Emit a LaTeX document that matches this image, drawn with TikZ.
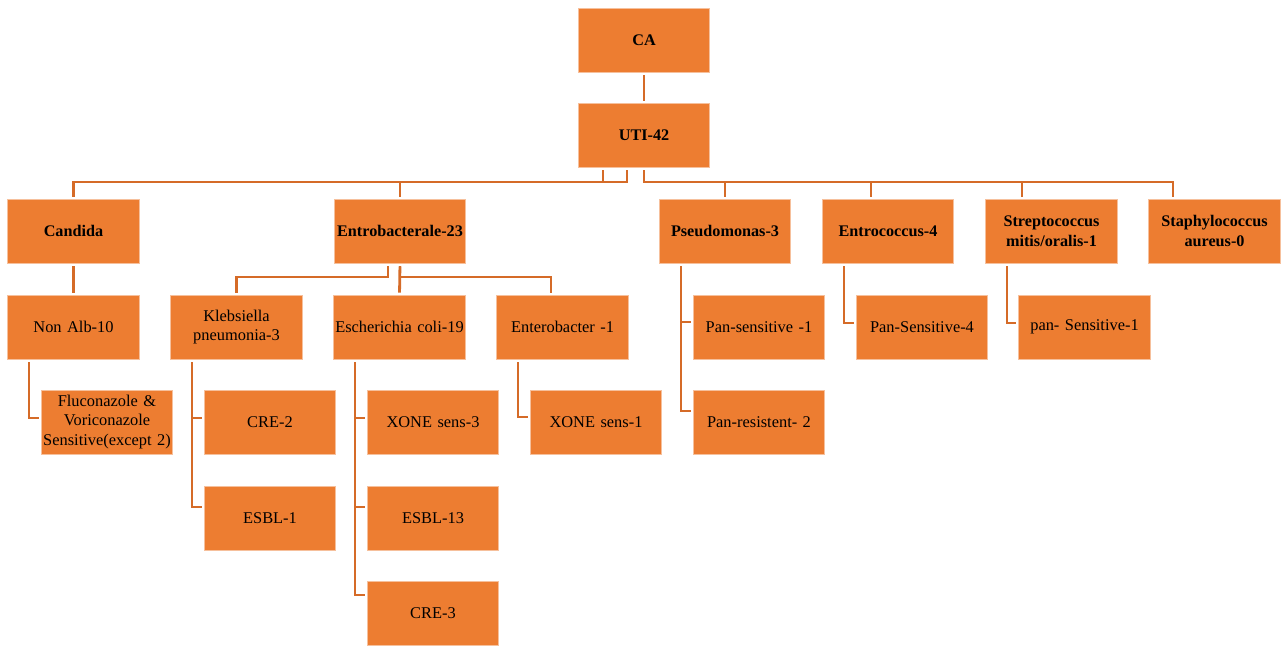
\documentclass[tikz,border=0pt]{standalone}
\usepackage{fontspec}
\setmainfont{Liberation Serif}
\definecolor{boxfill}{HTML}{ED7D31}
\definecolor{boxedge}{HTML}{F6C09C}
\definecolor{linkcol}{HTML}{D56B28}
\begin{document}
\begin{tikzpicture}[x=1pt,y=-1pt,
  box/.style={rectangle, fill=boxfill, draw=boxedge, line width=0.7pt,
    minimum width=131.5pt, minimum height=64pt, inner sep=0pt,
    text width=130pt, align=center,
    font=\fontsize{16.4}{19.8}\selectfont},
  topbox/.style={box, font=\fontsize{16.2}{19.8}\selectfont\bfseries},
  conn/.style={draw=linkcol, line width=2.8pt, shorten <=3pt, shorten >=2pt}]
\useasboundingbox (0,0) rectangle (1284,646);

% top of the hierarchy
\node[topbox] (ca)  at (644,40)  {CA};
\node[topbox] (uti) at (644,135) {UTI-42};

% organism groups
\node[topbox] (candida) at (73.5,231)  {Candida};
\node[topbox] (entro)   at (400,231)   {Entrobacterale-23};
\node[topbox] (pseudo)  at (725,231)   {Pseudomonas-3};
\node[topbox] (entroc)  at (888,231)   {Entrococcus-4};
\node[topbox] (strep)   at (1051.5,231){Streptococcus\\ mitis/oralis-1};
\node[topbox] (staph)   at (1214.5,231){Staphylococcus\\ aureus-0};

% species and sensitivity
\node[box] (nonalb)  at (73.5,327)  {Non Alb-10};
\node[box] (kleb)    at (236.5,327) {Klebsiella\\ pneumonia-3};
\node[box] (esch)    at (399.5,327) {Escherichia coli-19};
\node[box] (enterob) at (562.5,327) {Enterobacter -1};
\node[box] (pansa)   at (759,327)   {Pan-sensitive -1};
\node[box] (pansb)   at (922,327)   {Pan-Sensitive-4};
\node[box] (pansc)   at (1084.5,327){pan- Sensitive-1};

\node[box] (fluc)   at (107,422) {Fluconazole \&\\ Voriconazole\\ Sensitive(except 2)};
\node[box] (crea)   at (270,422) {CRE-2};
\node[box] (xonea)  at (433,422) {XONE sens-3};
\node[box] (xoneb)  at (596,422) {XONE sens-1};
\node[box] (panres) at (759,422) {Pan-resistent- 2};

\node[box] (esbla) at (270,518) {ESBL-1};
\node[box] (esblb) at (433,518) {ESBL-13};
\node[box] (creb)  at (433,613) {CRE-3};

% bus lines
\coordinate (busA) at (0,182);
\coordinate (busB) at (0,277);

% drop points on the upper boxes
\coordinate (entrocTop) at ([xshift=-17pt]entroc.north);
\coordinate (strepTop)  at ([xshift=-29.5pt]strep.north);
\coordinate (staphTop)  at ([xshift=-41.5pt]staph.north);
\coordinate (enterobTop) at ([xshift=-11.5pt]enterob.north);

% connectors
\draw[conn] (ca) -- (uti);

\draw[conn] ([xshift=-41pt]uti.south) |- (busA -| candida.north) -- (candida.north);
\draw[conn] ([xshift=-17pt]uti.south) |- (busA -| entro.north) -- (entro.north);
\draw[conn] (uti.south) |- (busA -| pseudo.north) -- (pseudo.north);
\draw[conn] (uti.south) |- (busA -| entrocTop) -- (entrocTop);
\draw[conn] (uti.south) |- (busA -| strepTop) -- (strepTop);
\draw[conn] (uti.south) |- (busA -| staphTop) -- (staphTop);

\draw[conn] (candida) -- (nonalb);

\draw[conn] ([xshift=-12pt]entro.south) |- (busB -| kleb.north) -- (kleb.north);
\draw[conn] (entro.south) -- (esch.north);
\draw[conn] (entro.south) |- (busB -| enterobTop) -- (enterobTop);

\draw[conn] ([xshift=-44.5pt]nonalb.south) |- ([yshift=4pt]fluc.west);

\draw[conn] ([xshift=-44.5pt]kleb.south) |- ([yshift=4pt]crea.west);
\draw[conn] ([xshift=-44.5pt]kleb.south) |- ([yshift=11pt]esbla.west);

\draw[conn] ([xshift=-44.5pt]esch.south) |- ([yshift=4pt]xonea.west);
\draw[conn] ([xshift=-44.5pt]esch.south) |- ([yshift=11pt]esblb.west);
\draw[conn] ([xshift=-44.5pt]esch.south) |- ([yshift=18pt]creb.west);

\draw[conn] ([xshift=-44.5pt]enterob.south) |- ([yshift=5pt]xoneb.west);

\draw[conn] ([xshift=-44pt]pseudo.south) |- ([yshift=5pt]pansa.west);
\draw[conn] ([xshift=-44pt]pseudo.south) |- ([yshift=11pt]panres.west);

\draw[conn] ([xshift=-44pt]entroc.south) |- ([yshift=4pt]pansb.west);
\draw[conn] ([xshift=-44.5pt]strep.south) |- ([yshift=4pt]pansc.west);
\end{tikzpicture}
\end{document}
